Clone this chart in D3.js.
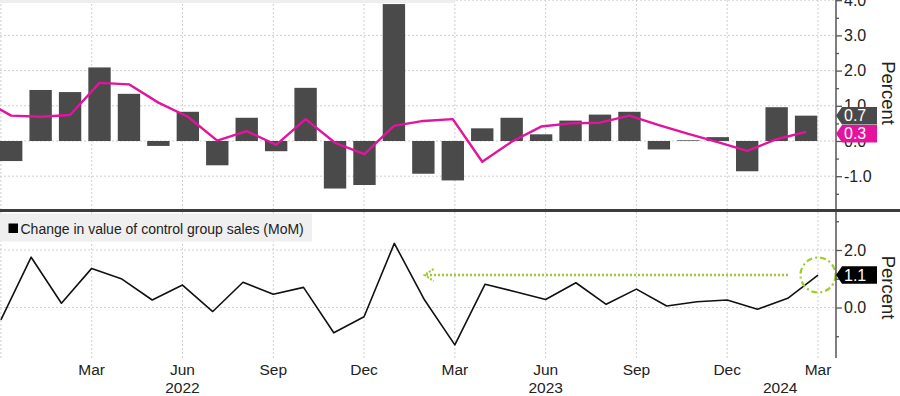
<!DOCTYPE html>
<html>
<head>
<meta charset="utf-8">
<script src="https://cdn.jsdelivr.net/npm/d3@7"></script>
<style>
  html, body { margin: 0; padding: 0; background: #fff; }
  svg { display: block; font-family: "Liberation Sans", Arial, sans-serif; }
  .tick text { fill: #222; }
</style>
</head>
<body>
<svg id="chart"></svg>
<script>
// months shown (Nov 2021 sits just off the left edge)
const MONTHS = [
  "2021-11", "2021-12",
  "2022-01", "2022-02", "2022-03", "2022-04", "2022-05", "2022-06",
  "2022-07", "2022-08", "2022-09", "2022-10", "2022-11", "2022-12",
  "2023-01", "2023-02", "2023-03", "2023-04", "2023-05", "2023-06",
  "2023-07", "2023-08", "2023-09", "2023-10", "2023-11", "2023-12",
  "2024-01", "2024-02", "2024-03",
];

// top panel: retail sales MoM (bars) and 3-month average (magenta)
const RETAIL_MOM = [
  null, -0.57,
  1.45, 1.39, 2.09, 1.34, -0.14, 0.83,
  -0.69, 0.66, -0.29, 1.51, -1.35, -1.25,
  3.89, -0.93, -1.12, 0.36, 0.66, 0.19,
  0.58, 0.75, 0.83, -0.24, 0.02, 0.11,
  -0.86, 0.96, 0.72,
];
const RETAIL_3M_AVG = [
  1.19, 0.72,
  0.69, 0.74, 1.65, 1.61, 1.09, 0.69,
  0.01, 0.28, -0.11, 0.62, -0.05, -0.37,
  0.43, 0.57, 0.62, -0.59, -0.02, 0.41,
  0.50, 0.52, 0.72, 0.45, 0.20, -0.03,
  -0.28, 0.05, 0.26,
];

// bottom panel: control group sales MoM
const CONTROL_MOM = [
  null, -0.43,
  1.75, 0.15, 1.36, 0.99, 0.26, 0.78,
  -0.14, 0.88, 0.46, 0.70, -0.88, -0.32,
  2.23, 0.26, -1.30, 0.81, 0.55, 0.28,
  0.86, 0.11, 0.64, 0.05, 0.20, 0.26,
  -0.06, 0.32, 1.13,
];

const TOP_TICKS       = [-1, 0, 1, 2, 3, 4];
const TOP_MINOR_TICKS = [-1.5, -0.5, 0.5, 1.5, 2.5, 3.5];
const BOT_TICKS       = [0, 2];
const BOT_MINOR_TICKS = [-1, 1, 3];
const MONTH_NAMES     = ["Jan", "Feb", "Mar", "Apr", "May", "Jun", "Jul", "Aug", "Sep", "Oct", "Nov", "Dec"];
const LEGEND_BOTTOM   = "Change in value of control group sales (MoM)";
const AXIS_TITLE      = "Percent";

const W = 900, H = 396;
const PLOT_RIGHT = 836;
const TOP_PANEL = { y0: 0, y1: 209 };
const BOT_PANEL = { y0: 212, y1: 358 };

const BAR_COLOR  = "#4a4a4a";
const AVG_COLOR  = "#e3139d";
const LINE_COLOR = "#111";
const GREEN      = "#9ccc2e";
const GRID_COLOR = "#cfcfcf";
const AXIS_COLOR = "#555";

const fmt = d => d.toFixed(1);
const monthOf = key => +key.slice(5, 7);

const svg = d3.select("#chart").attr("width", W).attr("height", H);

// scales
const xBand = d3.scaleBand()
  .domain(MONTHS)
  .range([-32.97, 820.8])
  .paddingInner(0.24)
  .paddingOuter(0.12);
const xBarCenter = k => xBand(k) + xBand.bandwidth() / 2;

const xPoint = d3.scalePoint()
  .domain(MONTHS)
  .range([-29.36, 818]);

const yTop = d3.scaleLinear().domain([-1, 4]).range([176.2, 0.2]);
const yBot = d3.scaleLinear().domain([0, 2]).range([307.5, 250]);

const defs = svg.append("defs");
defs.append("clipPath").attr("id", "clip-top")
  .append("rect").attr("x", 0).attr("y", TOP_PANEL.y0)
  .attr("width", PLOT_RIGHT).attr("height", TOP_PANEL.y1 - TOP_PANEL.y0);
defs.append("clipPath").attr("id", "clip-bot")
  .append("rect").attr("x", 0).attr("y", BOT_PANEL.y0)
  .attr("width", PLOT_RIGHT).attr("height", BOT_PANEL.y1 - BOT_PANEL.y0);

const gridMonths = MONTHS.filter(k => monthOf(k) % 3 === 0);
// only label quarters that have room for their text
const labelMonths = gridMonths.filter(k => xPoint(k) > 15);

// ---------- grids ----------
function drawGrid(panel, yScale, ticks) {
  const g = svg.append("g").attr("class", "grid");
  g.selectAll("line.v")
    .data(gridMonths)
    .join("line")
      .attr("class", "v")
      .attr("x1", d => xPoint(d)).attr("x2", d => xPoint(d))
      .attr("y1", panel.y0).attr("y2", panel.y1)
      .attr("stroke", GRID_COLOR).attr("stroke-dasharray", "2,2");
  g.selectAll("line.h")
    .data(ticks)
    .join("line")
      .attr("class", "h")
      .attr("x1", 0).attr("x2", PLOT_RIGHT)
      .attr("y1", d => yScale(d)).attr("y2", d => yScale(d))
      .attr("stroke", GRID_COLOR).attr("stroke-dasharray", "2,2");
}

drawGrid(TOP_PANEL, yTop, TOP_TICKS);
drawGrid(BOT_PANEL, yBot, BOT_TICKS);

// cut-off legend strip at the very top
svg.append("rect")
  .attr("x", 0).attr("y", 0).attr("width", 455).attr("height", 3)
  .attr("fill", "#eeeeee");

// ---------- top panel ----------
const topG = svg.append("g").attr("clip-path", "url(#clip-top)");
const barData = MONTHS.map((k, i) => ({ k, v: RETAIL_MOM[i] })).filter(d => d.v != null);

topG.selectAll("rect.bar")
  .data(barData)
  .join("rect")
    .attr("class", "bar")
    .attr("x", d => xBand(d.k))
    .attr("width", xBand.bandwidth())
    .attr("y", d => yTop(Math.max(0, d.v)))
    .attr("height", d => Math.abs(yTop(d.v) - yTop(0)))
    .attr("fill", BAR_COLOR);

const avgLine = d3.line()
  .x((d, i) => xBarCenter(MONTHS[i]))
  .y(d => yTop(d));
topG.append("path")
  .attr("d", avgLine(RETAIL_3M_AVG))
  .attr("fill", "none")
  .attr("stroke", AVG_COLOR)
  .attr("stroke-width", 2.4)
  .attr("stroke-linejoin", "round");

// ---------- separator ----------
svg.append("rect")
  .attr("x", 0).attr("y", 209).attr("width", W).attr("height", 3)
  .attr("fill", "#3c3c3c");

// ---------- bottom panel ----------
const botG = svg.append("g").attr("clip-path", "url(#clip-bot)");

const ctrlLine = d3.line()
  .defined(d => d != null)
  .x((d, i) => xPoint(MONTHS[i]))
  .y(d => yBot(d));
botG.append("path")
  .attr("d", ctrlLine(CONTROL_MOM))
  .attr("fill", "none")
  .attr("stroke", LINE_COLOR)
  .attr("stroke-width", 1.6)
  .attr("stroke-linejoin", "round");

// green dotted arrow and circle on the latest reading
const lastKey = MONTHS[MONTHS.length - 1];
const lastCtrl = CONTROL_MOM[CONTROL_MOM.length - 1];
const cx = xPoint(lastKey), cy = yBot(lastCtrl);
const arrowTipX = xPoint("2023-02");

botG.append("line")
  .attr("x1", cx - 30).attr("x2", arrowTipX + 2)
  .attr("y1", cy).attr("y2", cy)
  .attr("stroke", GREEN).attr("stroke-width", 2.6)
  .attr("stroke-dasharray", "2,2");
botG.append("path")
  .attr("d", `M${arrowTipX + 9},${cy - 6} L${arrowTipX},${cy} L${arrowTipX + 9},${cy + 6}`)
  .attr("fill", "none")
  .attr("stroke", GREEN).attr("stroke-width", 2.2)
  .attr("stroke-dasharray", "2,1.5");
svg.append("circle")
  .attr("cx", cx).attr("cy", cy).attr("r", 17.5)
  .attr("fill", "none")
  .attr("stroke", GREEN).attr("stroke-width", 2.2)
  .attr("stroke-dasharray", "6,3,2,3");

// legend
const legend = svg.append("g");
legend.append("rect")
  .attr("x", 0).attr("y", 213.5).attr("width", 312).attr("height", 28)
  .attr("fill", "#efefef");
legend.append("rect")
  .attr("x", 8.5).attr("y", 223.5).attr("width", 9.5).attr("height", 9.5)
  .attr("fill", "#000");
legend.append("text")
  .attr("x", 20.5).attr("y", 233.5)
  .attr("font-size", 14).attr("fill", "#222")
  .text(LEGEND_BOTTOM);

// ---------- right axes ----------
function drawAxis(panel, yScale, major, minor, titleY) {
  svg.append("line")
    .attr("x1", PLOT_RIGHT).attr("x2", PLOT_RIGHT)
    .attr("y1", panel.y0).attr("y2", panel.y1)
    .attr("stroke", AXIS_COLOR).attr("stroke-width", 1.5);

  svg.append("g")
    .attr("transform", `translate(${PLOT_RIGHT},0)`)
    .call(d3.axisRight(yScale).tickValues(minor).tickSize(3).tickFormat(""))
    .call(ax => ax.select(".domain").remove())
    .selectAll("line").attr("stroke", AXIS_COLOR).attr("stroke-width", 1.3);

  svg.append("g")
    .attr("transform", `translate(${PLOT_RIGHT},0)`)
    .call(d3.axisRight(yScale).tickValues(major).tickSize(6).tickPadding(2).tickFormat(fmt))
    .call(ax => ax.select(".domain").remove())
    .call(ax => ax.selectAll("line").attr("stroke", AXIS_COLOR).attr("stroke-width", 1.3))
    .call(ax => ax.selectAll("text")
      .attr("font-size", 16)
      .attr("font-family", "Liberation Sans, Arial, sans-serif")
      .attr("fill", "#222"));

  svg.append("text")
    .attr("transform", `translate(882,${titleY}) rotate(90)`)
    .attr("text-anchor", "middle")
    .attr("font-size", 18.5)
    .attr("fill", "#222")
    .text(AXIS_TITLE);
}

drawAxis(TOP_PANEL, yTop, TOP_TICKS, TOP_MINOR_TICKS, 93);
drawAxis(BOT_PANEL, yBot, BOT_TICKS, BOT_MINOR_TICKS, 287.5);

// ---------- last-value tags ----------
function valueTag(yCenter, h, fill, label) {
  const x0 = PLOT_RIGHT, x1 = PLOT_RIGHT + 6, x2 = 877;
  svg.append("path")
    .attr("d", `M${x0},${yCenter} L${x1},${yCenter - h / 2} L${x2},${yCenter - h / 2} L${x2},${yCenter + h / 2} L${x1},${yCenter + h / 2} Z`)
    .attr("fill", fill);
  svg.append("text")
    .attr("x", 844).attr("y", yCenter)
    .attr("dy", "0.36em")
    .attr("font-size", 16)
    .attr("fill", "#fff")
    .text(label);
}

const lastBar = RETAIL_MOM[RETAIL_MOM.length - 1];
const lastAvg = RETAIL_3M_AVG[RETAIL_3M_AVG.length - 1];
const TAG_H = 17.5;
const barTagY = yTop(lastBar);
const avgTagY = Math.max(yTop(lastAvg), barTagY + TAG_H + 0.5);
valueTag(barTagY, TAG_H, BAR_COLOR, fmt(lastBar));
valueTag(avgTagY, TAG_H, AVG_COLOR, fmt(lastAvg));
valueTag(cy, TAG_H, "#000", fmt(lastCtrl));

// ---------- bottom time axis ----------
svg.append("g")
  .selectAll("text.month")
  .data(labelMonths)
  .join("text")
    .attr("class", "month")
    .attr("x", d => xPoint(d))
    .attr("y", 375)
    .attr("text-anchor", "middle")
    .attr("font-size", 15.5)
    .attr("fill", "#222")
    .text(d => MONTH_NAMES[monthOf(d) - 1]);

const years = Array.from(new Set(MONTHS.map(k => k.slice(0, 4)))).filter(y => y !== "2021");
const step = xPoint.step();
svg.append("g")
  .selectAll("text.year")
  .data(years)
  .join("text")
    .attr("class", "year")
    .attr("x", y => {
      const jun = `${y}-06`;
      if (MONTHS.includes(jun)) return xPoint(jun);
      const inYear = MONTHS.filter(k => k.startsWith(y));
      return (xPoint(inYear[0]) - step / 2 + xPoint(inYear[inYear.length - 1])) / 2;
    })
    .attr("y", 393)
    .attr("text-anchor", "middle")
    .attr("font-size", 15.5)
    .attr("fill", "#222")
    .text(y => y);
</script>
</body>
</html>
